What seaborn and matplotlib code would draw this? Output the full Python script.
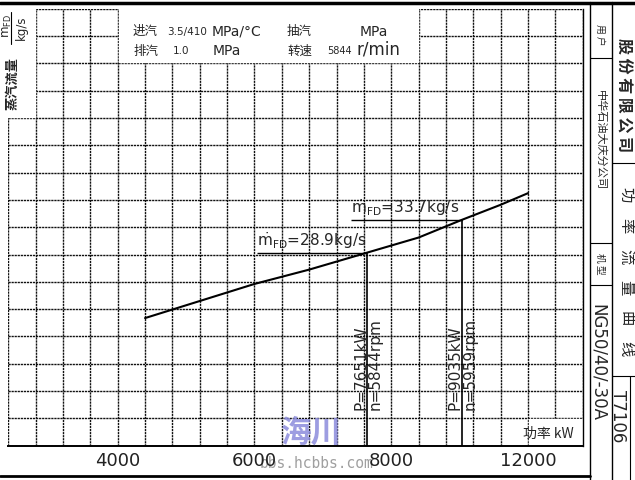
import numpy as np
import seaborn as sns
import matplotlib.pyplot as plt
from matplotlib.ticker import MultipleLocator, FixedLocator
from matplotlib.patches import Rectangle
from matplotlib.lines import Line2D

# curve (power kW -> steam flow kg/s)
power_kw = [4400, 5200, 6000, 6800, 7651, 8400, 9035, 9600, 10000]
steam_flow = [19.3, 21.8, 24.3, 26.4, 28.9, 31.1, 33.7, 35.9, 37.6]

# the two marked operating points
op_power = [7651, 9035]
op_flow = [28.9, 33.7]
op_speed = [5844, 5959]

tick_pos = [4000, 6000, 8000, 10000]
tick_text = ["4000", "6000", "8000", "12000"]

W, H = 635, 480
x_lo, x_hi = 2400, 10800
y_lo, y_hi = 0.6, 64.6

sns.set_style("white")
plt.rcParams['font.family'] = ['DejaVu Sans', 'Noto Sans CJK SC']
cjk = ['Noto Sans CJK SC', 'DejaVu Sans']
mdot = r'$\dot{\mathrm{m}}_{\mathrm{FD}}$'


def fx(x):
    return x / W


def fy(y):
    return 1 - y / H


fig = plt.figure(figsize=(W / 100, H / 100), dpi=100)
ax = fig.add_axes([fx(8.3), fy(445.7), (582.7 - 8.3) / W, (445.7 - 8.9) / H])

sns.lineplot(x=power_kw, y=steam_flow, color='black', linewidth=1.5, ax=ax, zorder=3)

ax.set_xlim(x_lo, x_hi)
ax.set_ylim(y_lo, y_hi)
ax.set_xlabel('')
ax.set_ylabel('')

# grid paper
ax.set_axisbelow(True)
ax.xaxis.set_minor_locator(MultipleLocator(400))
ax.set_xticks(tick_pos)
ax.set_xticklabels(tick_text, fontsize=13, color='#222222')
ax.yaxis.set_major_locator(FixedLocator(np.arange(y_lo, y_hi + 0.01, 4)))
ax.set_yticklabels([])
ax.tick_params(axis='y', length=0)
ax.tick_params(axis='x', which='minor', length=0)
ax.tick_params(axis='x', which='major', direction='inout', length=7, width=1.3, pad=1)
grid_kw = dict(color='#111111', linewidth=1.0, linestyle=(0, (1.6, 0.6)))
ax.grid(axis='x', which='both', **grid_kw)
ax.grid(axis='y', which='major', **grid_kw)
for s in ['left', 'top']:
    ax.spines[s].set_visible(False)
ax.spines['bottom'].set_linewidth(1.4)
ax.spines['right'].set_linewidth(1.0)
ax.spines['bottom'].set_color('black')
ax.spines['right'].set_color('black')

# blank cells of the printed form
ax.add_patch(Rectangle((4015, 56.75), 4370, 8.5, color='white', zorder=1))
ax.add_patch(Rectangle((2300, 48.75), 485, 16.5, color='white', zorder=1))
ax.add_patch(Rectangle((10015, 0), 800, 4.45, color='white', zorder=1))

# operating points
ax.vlines(op_power, y_lo, op_flow, color='black', linewidth=1.2, zorder=3)
ax.hlines(op_flow, np.array(op_power) - 1620, op_power, color='black', linewidth=1.0, zorder=3)
for p, m, n in zip(op_power, op_flow, op_speed):
    ax.text(p - 1620, m + 0.2, mdot + f'={m}kg/s', fontsize=11,
            ha='left', va='bottom', zorder=4)
    ax.text(p - 30, 5.8, f'P={p}kW', fontsize=11, rotation=90, rotation_mode='anchor',
            ha='left', va='baseline', zorder=4)
    ax.text(p + 10, 5.8, f'n={n}rpm', fontsize=11, rotation=90, rotation_mode='anchor',
            ha='left', va='top', zorder=4)

ax.text(0.985, 0.012, '功率 kW', transform=ax.transAxes, fontsize=10, family=cjk,
        ha='right', va='bottom', zorder=4)

# header block
hdr = [
    (133, 31.5, '进汽', 9, cjk), (167, 31.5, '3.5/410', 7.5, None),
    (212, 31.5, 'MPa/°C', 10, None), (287, 31.5, '抽汽', 9, cjk),
    (360, 31.5, 'MPa', 10, None),
    (133, 51, '排汽', 9, cjk), (173, 51, '1.0', 7.5, None), (213, 51, 'MPa', 10, None),
    (287, 51, '转速', 9, cjk), (327, 51, '5844', 7, None), (357, 49, 'r/min', 12, None),
]
for x, y, s, fs, fam in hdr:
    fig.text(fx(x), fy(y), s, fontsize=fs, ha='left', va='center',
             **({'family': fam} if fam else {}))

# y axis caption
fig.text(fx(12.5), fy(83), '蒸汽流量', rotation=90, fontsize=9.5, family=cjk,
         fontweight='bold', ha='center', va='center')
fig.text(fx(5.5), fy(26), mdot, rotation=90, fontsize=8.5,
         ha='center', va='center')
fig.text(fx(21), fy(28), 'kg/s', rotation=90, fontsize=8.5, ha='center', va='center')
fig.add_artist(Line2D([fx(11), fx(11)], [fy(12), fy(44)], color='black', lw=0.8))

# title block on the right
for xs, ys, lw in [
    ([0, W], [2.5, 2.5], 2.5),
    ([0, 590], [476, 476], 2.0),
    ([590, 590], [2, H], 1.0),
    ([612, 612], [2, H], 1.0),
    ([590, 612], [58, 58], 0.8),
    ([590, 612], [243, 243], 0.8),
    ([590, 612], [285, 285], 0.8),
    ([612, W], [163, 163], 0.8),
    ([612, W], [376, 376], 0.8),
    ([630, 630], [376, H], 0.8),
]:
    fig.add_artist(Line2D([fx(v) for v in xs], [fy(v) for v in ys], color='black', lw=lw))

side = [
    (600, 35, '用 户', 7, 'normal'),
    (600, 140, '中华石油大庆分公司', 8, 'normal'),
    (600, 264, '机 型', 7, 'normal'),
    (623, 95, '股 份 有 限 公 司', 11.5, 'bold'),
]
for x, y, s, fs, fw in side:
    fig.text(fx(x), fy(y), s, rotation=-90, fontsize=fs, family=cjk, fontweight=fw,
             ha='center', va='center')
for ch, y in zip('功率流量曲线', np.linspace(195, 349, 6)):
    fig.text(fx(626), fy(y), ch, rotation=-90, fontsize=11, family=cjk,
             ha='center', va='center')
fig.text(fx(598), fy(362), 'NG50/40/-30A', rotation=-90, fontsize=12,
         ha='center', va='center')
fig.text(fx(618), fy(416), 'T7106', rotation=-90, fontsize=12, ha='center', va='center')

# scan watermark: the blue mark lies over the grid, the url behind the tick labels
fig.text(fx(311), fy(433), '海川', fontsize=22, family=cjk, fontweight='bold',
         color='#8c8cdc', alpha=0.85, ha='center', va='center', zorder=1)
fig.text(fx(260), fy(463), 'bbs.hcbbs.com', fontsize=10.5, family='DejaVu Sans Mono',
         color='#a0a0a0', ha='left', va='center', zorder=-1)

fig.savefig('out.png', dpi=100)
